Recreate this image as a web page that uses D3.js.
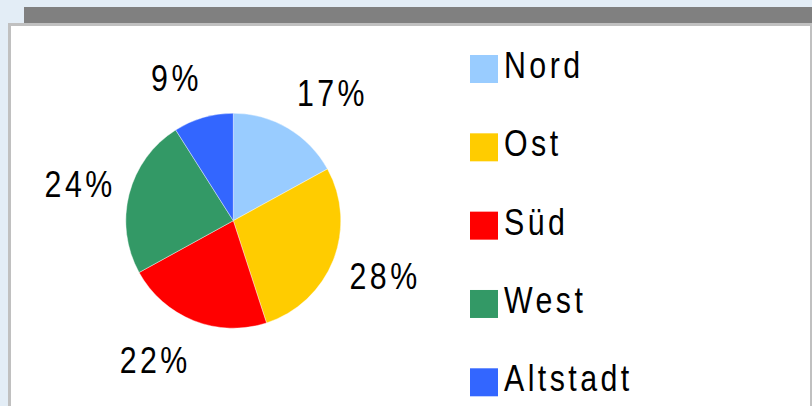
<!DOCTYPE html>
<html>
<head>
<meta charset="utf-8">
<script src="https://cdn.jsdelivr.net/npm/d3@7"></script>
<style>
  html, body { margin: 0; padding: 0; background: #e3edf6; }
  svg { display: block; }
  text { font-family: "Liberation Sans", Arial, sans-serif; }
</style>
</head>
<body>
<div id="chart"></div>
<script>
const width = 812;
const height = 406;

// data
const regions = ["Nord", "Ost", "Süd", "West", "Altstadt"];
const shares = [17, 28, 22, 24, 9];
const colors = ["#99ccff", "#ffcc00", "#ff0000", "#339966", "#3366ff"];

const data = regions.map((r, i) => ({ region: r, value: shares[i] }));
const total = d3.sum(shares);

// text is a narrow sans with wide tracking
const fontSize = 37;
const squeeze = 0.82;
const letterSpacing = 4.2;

const svg = d3.select("#chart").append("svg")
    .attr("width", width)
    .attr("height", height);

// frame: grey title bar + white panel with border
svg.append("rect")
    .attr("x", 24).attr("y", 7)
    .attr("width", width - 24).attr("height", 16)
    .attr("fill", "#808080");

svg.append("rect")
    .attr("x", 9.5).attr("y", 24.5)
    .attr("width", width - 10).attr("height", height)
    .attr("fill", "#ffffff")
    .attr("stroke", "#c0c0c0")
    .attr("stroke-width", 3);

// pie
const cx = 233.3, cy = 220.7;
const radius = 107.5;

const pie = d3.pie()
    .value(d => d.value)
    .sort(null);

const arc = d3.arc()
    .innerRadius(0)
    .outerRadius(radius);

const color = d3.scaleOrdinal()
    .domain(regions)
    .range(colors);

const g = svg.append("g").attr("transform", `translate(${cx},${cy})`);

const arcs = pie(data);

g.selectAll("path")
    .data(arcs)
    .join("path")
    .attr("fill", d => color(d.data.region))
    .attr("stroke", "#ffffff")
    .attr("stroke-width", 0.4)
    .attr("d", arc);

// labels outside the pie: text starts (or ends) at the anchor point,
// and is pushed up/down depending on the direction of the slice
const labelRadius = 125;
const capHeight = fontSize * 0.74;
const pct = d => Math.round(d.data.value / total * 100) + "%";

const labels = g.selectAll("text.pct")
    .data(arcs)
    .join("text")
    .attr("class", "pct")
    .style("font-size", fontSize + "px")
    .style("letter-spacing", letterSpacing + "px")
    .attr("fill", "#000")
    .text(pct);

labels.each(function (d) {
    const bb = this.getBBox();
    const w = (bb.width - letterSpacing) * squeeze;
    const mid = (d.startAngle + d.endAngle) / 2;
    const ax = labelRadius * Math.sin(mid);
    const ay = -labelRadius * Math.cos(mid);
    const left = Math.sin(mid) >= 0 ? ax : ax - w;
    const centerY = ay - Math.cos(mid) * capHeight * 0.88;
    d3.select(this)
        .attr("transform", `translate(${left},${centerY + capHeight / 2}) scale(${squeeze},1)`);
});

// legend
const legendY = d3.scalePoint()
    .domain(regions)
    .range([55, 368.3]);

const legend = svg.append("g")
    .selectAll("g")
    .data(regions)
    .join("g")
    .attr("transform", d => `translate(470,${legendY(d)})`);

legend.append("rect")
    .attr("width", 28)
    .attr("height", 28)
    .attr("fill", d => color(d));

legend.append("text")
    .attr("transform", `translate(34,23) scale(${squeeze},1)`)
    .style("font-size", fontSize + "px")
    .style("letter-spacing", letterSpacing + "px")
    .attr("fill", "#000")
    .text(d => d);
</script>
</body>
</html>
